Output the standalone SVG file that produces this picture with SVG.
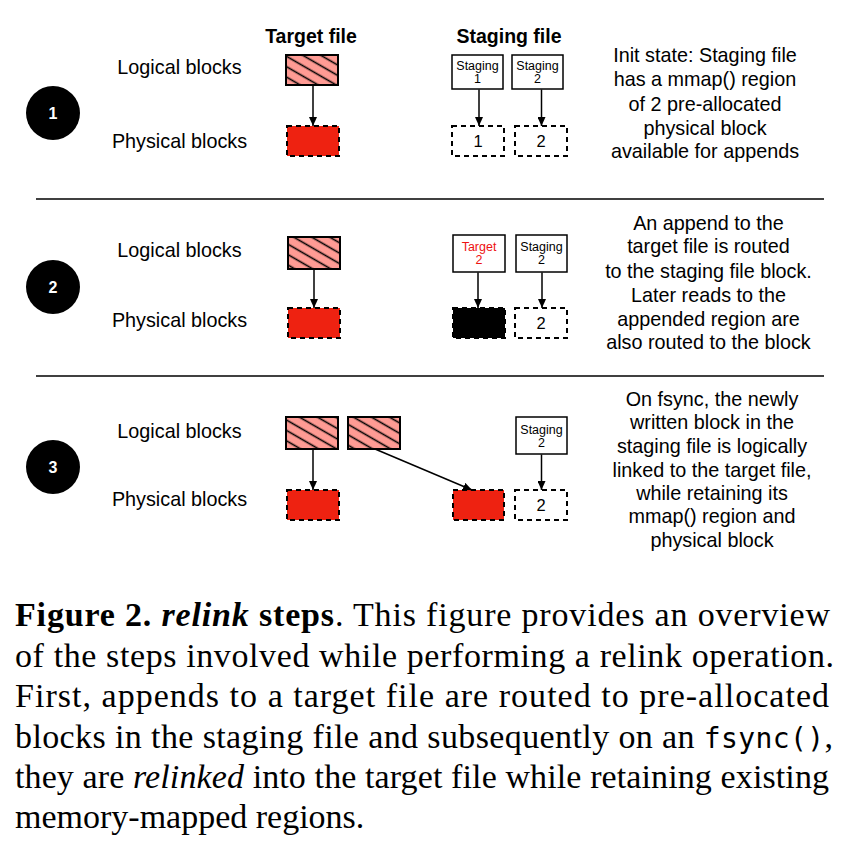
<svg xmlns="http://www.w3.org/2000/svg" width="858" height="850" viewBox="0 0 858 850">
<defs>
<pattern id="hatch" patternUnits="userSpaceOnUse" width="10" height="9" patternTransform="rotate(30)">
<rect width="10" height="9" fill="#ff9b94"/>
<line x1="0" y1="4.5" x2="10" y2="4.5" stroke="#000" stroke-width="1.6"/>
</pattern>
<marker id="ah" markerUnits="userSpaceOnUse" markerWidth="9" markerHeight="8" refX="9" refY="4" orient="auto">
<path d="M0,0 L9,4 L0,8 z" fill="#000"/>
</marker>
</defs>
<style>
.lbl{font-family:"Liberation Sans",Arial,sans-serif;font-size:19.8px;fill:#000;text-anchor:middle}
.hd{font-family:"Liberation Sans",Arial,sans-serif;font-size:19.5px;font-weight:bold;fill:#000;text-anchor:middle}
.sm{font-family:"Liberation Sans",Arial,sans-serif;font-size:12.5px;fill:#000;text-anchor:middle}
.red{fill:#ee1111}
.num{font-family:"Liberation Sans",Arial,sans-serif;font-size:16.5px;fill:#000;text-anchor:middle}
.cn{font-family:"Liberation Sans",Arial,sans-serif;font-size:16px;font-weight:bold;fill:#fff;text-anchor:middle}
.logical{fill:url(#hatch);stroke:#000;stroke-width:2}
.phys{stroke:#000;stroke-width:2;stroke-dasharray:5 4}
.box{fill:#fff;stroke:#000;stroke-width:1.5}
.arr{stroke:#000;stroke-width:1.5;fill:none;marker-end:url(#ah)}
.sep{stroke:#000;stroke-width:1.5}
.cap{font-family:"Liberation Serif","Times New Roman",serif;font-size:34px;fill:#000}
.mono{font-family:"DejaVu Sans Mono","Liberation Mono",monospace;font-size:28px}
</style>
<rect width="858" height="850" fill="#fff"/>

<text class="hd" x="311" y="43">Target file</text>
<text class="hd" x="509" y="43">Staging file</text>

<line class="sep" x1="36" y1="199" x2="824" y2="199"/>
<line class="sep" x1="36" y1="376" x2="824" y2="376"/>

<!-- Step 1 -->
<g id="step1-badge"><circle cx="53" cy="113" r="27" fill="#000"/><text class="cn" x="53" y="119">1</text></g>
<g id="step1-labels"><text class="lbl" x="179.5" y="74">Logical blocks</text><text class="lbl" x="179.5" y="148">Physical blocks</text></g>
<g id="s1-target-logical"><rect class="logical" x="286" y="55" width="52" height="30"/></g>
<g id="s1-target-physical"><rect class="phys" x="287" y="126" width="52" height="30" fill="#ee2211"/></g>
<g id="s1-staging1"><rect class="box" x="452" y="55" width="51" height="34"/><text class="sm" x="477.5" y="70">Staging</text><text class="sm" x="477.5" y="83">1</text></g>
<g id="s1-staging2"><rect class="box" x="512" y="55" width="51" height="34"/><text class="sm" x="537.5" y="70">Staging</text><text class="sm" x="537.5" y="83">2</text></g>
<g id="s1-phys1"><rect class="phys" x="452" y="126" width="52" height="30" fill="#fff"/><text class="num" x="478" y="147">1</text></g>
<g id="s1-phys2"><rect class="phys" x="515" y="126" width="52" height="30" fill="#fff"/><text class="num" x="541" y="147">2</text></g>
<g id="s1-text"><text class="lbl" x="705" y="62">Init state: Staging file</text><text class="lbl" x="705" y="86">has a mmap() region</text><text class="lbl" x="705" y="111">of 2 pre-allocated</text><text class="lbl" x="705" y="135">physical block</text><text class="lbl" x="705" y="158">available for appends</text></g>

<!-- Step 2 -->
<g id="step2-badge"><circle cx="53" cy="287" r="27" fill="#000"/><text class="cn" x="53" y="293">2</text></g>
<g id="step2-labels"><text class="lbl" x="179.5" y="257">Logical blocks</text><text class="lbl" x="179.5" y="327">Physical blocks</text></g>
<g id="s2-target-logical"><rect class="logical" x="288" y="237" width="52" height="32"/></g>
<g id="s2-target-physical"><rect class="phys" x="288" y="308" width="52" height="30" fill="#ee2211"/></g>
<g id="s2-target2"><rect class="box" x="453" y="235" width="52" height="37"/><text class="sm red" x="479" y="251">Target</text><text class="sm red" x="479" y="264">2</text></g>
<g id="s2-staging2"><rect class="box" x="516" y="235" width="51" height="37"/><text class="sm" x="541.5" y="251">Staging</text><text class="sm" x="541.5" y="264">2</text></g>
<g id="s2-phys-black"><rect class="phys" x="453" y="308" width="52" height="30" fill="#000"/></g>
<g id="s2-phys2"><rect class="phys" x="515" y="308" width="52" height="30" fill="#fff"/><text class="num" x="541" y="329">2</text></g>
<g id="s2-text"><text class="lbl" x="708.5" y="230">An append to the</text><text class="lbl" x="708.5" y="253">target file is routed</text><text class="lbl" x="708.5" y="278">to the staging file block.</text><text class="lbl" x="708.5" y="302">Later reads to the</text><text class="lbl" x="708.5" y="326">appended region are</text><text class="lbl" x="708.5" y="349">also routed to the block</text></g>

<!-- Step 3 -->
<g id="step3-badge"><circle cx="53" cy="467" r="27" fill="#000"/><text class="cn" x="53" y="473">3</text></g>
<g id="step3-labels"><text class="lbl" x="179.5" y="438">Logical blocks</text><text class="lbl" x="179.5" y="506">Physical blocks</text></g>
<g id="s3-target-logical1"><rect class="logical" x="286" y="417" width="52" height="32"/></g>
<g id="s3-target-logical2"><rect class="logical" x="348" y="417" width="52" height="32"/></g>
<g id="s3-target-physical"><rect class="phys" x="287" y="490" width="52" height="30" fill="#ee2211"/></g>
<g id="s3-relinked-physical"><rect class="phys" x="453" y="490" width="51" height="30" fill="#ee2211"/></g>
<g id="s3-staging2"><rect class="box" x="516" y="417" width="51" height="37"/><text class="sm" x="541.5" y="434">Staging</text><text class="sm" x="541.5" y="447">2</text></g>
<g id="s3-phys2"><rect class="phys" x="515" y="490" width="52" height="30" fill="#fff"/><text class="num" x="541" y="511">2</text></g>
<g id="s3-text"><text class="lbl" x="712" y="406">On fsync, the newly</text><text class="lbl" x="712" y="429">written block in the</text><text class="lbl" x="712" y="453">staging file is logically</text><text class="lbl" x="712" y="477">linked to the target file,</text><text class="lbl" x="712" y="500">while retaining its</text><text class="lbl" x="712" y="523">mmap() region and</text><text class="lbl" x="712" y="547">physical block</text></g>

<g id="connectors">
<line class="arr" x1="313" y1="86" x2="313" y2="126"/>
<line class="arr" x1="479" y1="89.5" x2="479" y2="126"/>
<line class="arr" x1="541.5" y1="89.5" x2="541.5" y2="126"/>
<line class="arr" x1="314" y1="270" x2="314" y2="308"/>
<line class="arr" x1="478" y1="272.5" x2="478" y2="308"/>
<line class="arr" x1="542" y1="272.5" x2="542" y2="308"/>
<line class="arr" x1="313" y1="450" x2="313" y2="490"/>
<line class="arr" x1="375" y1="449" x2="472" y2="490"/>
<line class="arr" x1="541.5" y1="454.5" x2="541.5" y2="490"/>
</g>

<g id="caption">
<text class="cap" x="15" y="626" textLength="815" lengthAdjust="spacing"><tspan font-weight="bold">Figure 2. </tspan><tspan font-weight="bold" font-style="italic">relink</tspan><tspan font-weight="bold"> steps</tspan>. This figure provides an overview</text>
<text class="cap" x="15" y="666.5" textLength="819" lengthAdjust="spacing">of the steps involved while performing a relink operation.</text>
<text class="cap" x="15" y="707" textLength="814" lengthAdjust="spacing">First, appends to a target file are routed to pre-allocated</text>
<text class="cap" x="15" y="747.5" textLength="818" lengthAdjust="spacing">blocks in the staging file and subsequently on an <tspan class="mono">fsync()</tspan>,</text>
<text class="cap" x="15" y="788" textLength="814" lengthAdjust="spacing">they are <tspan font-style="italic">relinked</tspan> into the target file while retaining existing</text>
<text class="cap" x="15" y="828">memory-mapped regions.</text>
</g>
</svg>
